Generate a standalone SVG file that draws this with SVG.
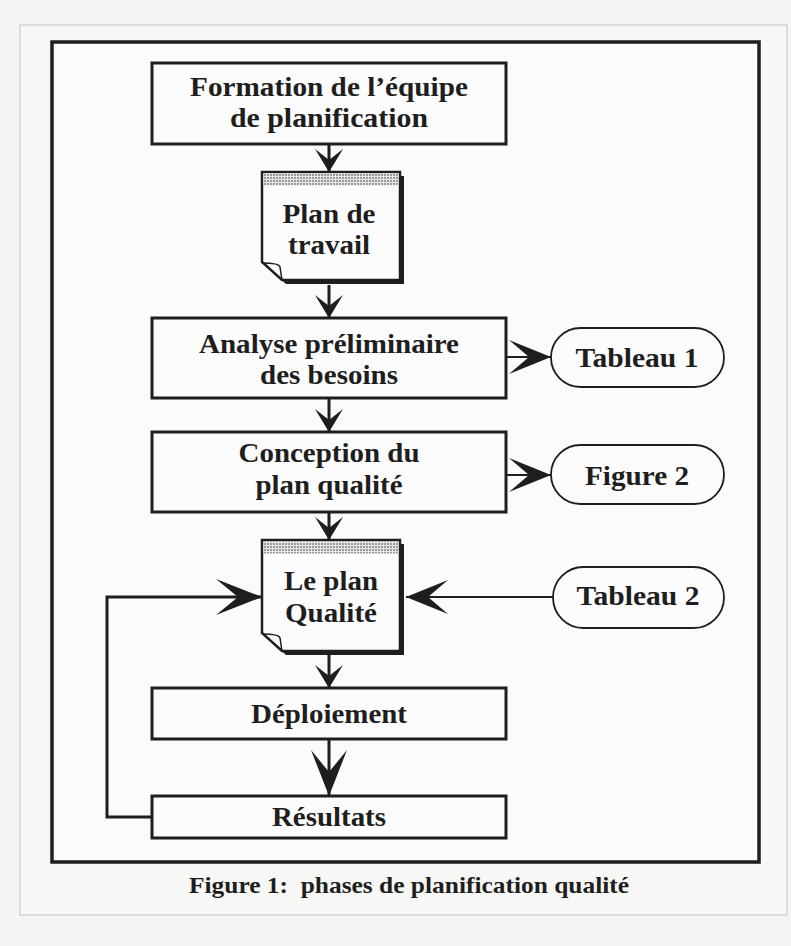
<svg xmlns="http://www.w3.org/2000/svg" width="791" height="946" viewBox="0 0 791 946">
<style>
.box{fill:#fcfcfc;stroke:#1e1e1e;stroke-width:3}
.doc{fill:#fcfcfc;stroke:#1e1e1e;stroke-width:2.5}
.shadow{fill:#1e1e1e}
.band{fill:url(#stip)}
.pill{fill:#fcfcfc;stroke:#1e1e1e;stroke-width:1.8}
.t{font-family:"Liberation Serif","Times New Roman",serif;font-weight:bold;font-size:28px;fill:#1e1e1e;text-anchor:middle}
.cap{font-size:24px}
.ln{fill:none;stroke:#1e1e1e;stroke-width:3}
.thin{stroke-width:1.8}
.fold{fill:none;stroke:#1e1e1e;stroke-width:1.5}
</style>
<defs>
<pattern id="stip" width="3" height="3" patternUnits="userSpaceOnUse">
<rect width="3" height="3" fill="#e6e6e6"/>
<circle cx="1" cy="1" r="0.9" fill="#777"/>
</pattern>
<marker id="sm" markerUnits="userSpaceOnUse" orient="auto" overflow="visible" markerWidth="1" markerHeight="1" refX="0" refY="0">
<path d="M0,0 L-23,-14 L-12,0 L-23,14 Z" fill="#1e1e1e"/>
</marker>
<marker id="lg" markerUnits="userSpaceOnUse" orient="auto" overflow="visible" markerWidth="1" markerHeight="1" refX="0" refY="0">
<path d="M0,0 L-42,-17 L-22,0 L-42,17 Z" fill="#1e1e1e"/>
</marker>
<marker id="xl" markerUnits="userSpaceOnUse" orient="auto" overflow="visible" markerWidth="1" markerHeight="1" refX="0" refY="0">
<path d="M0,0 L-46,-18 L-24,0 L-46,18 Z" fill="#1e1e1e"/>
</marker>
</defs>
<rect width="791" height="946" fill="#f4f4f2"/>
<rect x="20" y="25" width="767" height="890" fill="#f7f7f5" stroke="#d4d4d4" stroke-width="1.5"/>
<rect id="frame" x="52" y="42" width="707" height="820" fill="#fbfbfa" stroke="#1e1e1e" stroke-width="3.5"/>

<g id="connectors">
<path class="ln" d="M329,144 V172" marker-end="url(#sm)"/>
<path class="ln" d="M329,285 V318" marker-end="url(#sm)"/>
<path class="ln" d="M329,398 V432" marker-end="url(#sm)"/>
<path class="ln" d="M329,512 V540" marker-end="url(#sm)"/>
<path class="ln" d="M329,654 V688" marker-end="url(#sm)"/>
<path class="ln" d="M329,739 V796" marker-end="url(#xl)"/>
<path class="ln thin" d="M506,357 H551" marker-end="url(#lg)"/>
<path class="ln thin" d="M506,475 H551" marker-end="url(#lg)"/>
<path class="ln thin" d="M553,597 H406" marker-end="url(#lg)"/>
<path class="ln" d="M152,817 H107 V597 H262" marker-end="url(#xl)"/>
</g>

<g id="n1">
<rect class="box" x="152" y="63" width="354" height="81"/>
<text class="t" x="329" y="96" textLength="278" lengthAdjust="spacingAndGlyphs">Formation de l’équipe</text>
<text class="t" x="329" y="127" textLength="198" lengthAdjust="spacingAndGlyphs">de planification</text>
</g>

<g id="n2">
<path class="shadow" d="M266,176 H404 V284 H286 L266,266 Z"/>
<path class="doc" d="M262,172 H400 V280 H282 L262,262 Z"/>
<rect class="band" x="263.5" y="173.5" width="135" height="12"/>
<path class="fold" d="M262,263 Q279,263 280,267 L282,280"/>
<text class="t" x="329" y="223" textLength="93" lengthAdjust="spacingAndGlyphs">Plan de</text>
<text class="t" x="329" y="254" textLength="82" lengthAdjust="spacingAndGlyphs">travail</text>
</g>

<g id="n3">
<rect class="box" x="152" y="318" width="354" height="80"/>
<text class="t" x="329" y="353" textLength="260" lengthAdjust="spacingAndGlyphs">Analyse préliminaire</text>
<text class="t" x="329" y="384" textLength="138" lengthAdjust="spacingAndGlyphs">des besoins</text>
</g>

<g id="n4">
<rect class="pill" x="551" y="328" width="173" height="59" rx="29.5"/>
<text class="t" x="637" y="367" textLength="123" lengthAdjust="spacingAndGlyphs">Tableau 1</text>
</g>

<g id="n5">
<rect class="box" x="152" y="432" width="354" height="80"/>
<text class="t" x="329" y="462" textLength="181" lengthAdjust="spacingAndGlyphs">Conception du</text>
<text class="t" x="329" y="494" textLength="147" lengthAdjust="spacingAndGlyphs">plan qualité</text>
</g>

<g id="n6">
<rect class="pill" x="551" y="445" width="173" height="59" rx="29.5"/>
<text class="t" x="637" y="485" textLength="104" lengthAdjust="spacingAndGlyphs">Figure 2</text>
</g>

<g id="n7">
<path class="shadow" d="M266,544 H404 V655 H286 L266,637 Z"/>
<path class="doc" d="M262,540 H400 V651 H282 L262,633 Z"/>
<rect class="band" x="263.5" y="541.5" width="135" height="12"/>
<path class="fold" d="M262,634 Q279,634 280,638 L282,651"/>
<text class="t" x="331" y="590" textLength="94" lengthAdjust="spacingAndGlyphs">Le plan</text>
<text class="t" x="331" y="622" textLength="92" lengthAdjust="spacingAndGlyphs">Qualité</text>
</g>

<g id="n8">
<rect class="pill" x="553" y="567" width="171" height="61" rx="30.5"/>
<text class="t" x="638" y="605" textLength="123" lengthAdjust="spacingAndGlyphs">Tableau 2</text>
</g>

<g id="n9">
<rect class="box" x="152" y="688" width="354" height="51"/>
<text class="t" x="329" y="723" textLength="156" lengthAdjust="spacingAndGlyphs">Déploiement</text>
</g>

<g id="n10">
<rect class="box" x="152" y="796" width="354" height="42"/>
<text class="t" x="329" y="826" textLength="114" lengthAdjust="spacingAndGlyphs">Résultats</text>
</g>

<text class="t cap" x="409" y="893" textLength="440" lengthAdjust="spacingAndGlyphs" xml:space="preserve">Figure 1:  phases de planification qualité</text>
</svg>
